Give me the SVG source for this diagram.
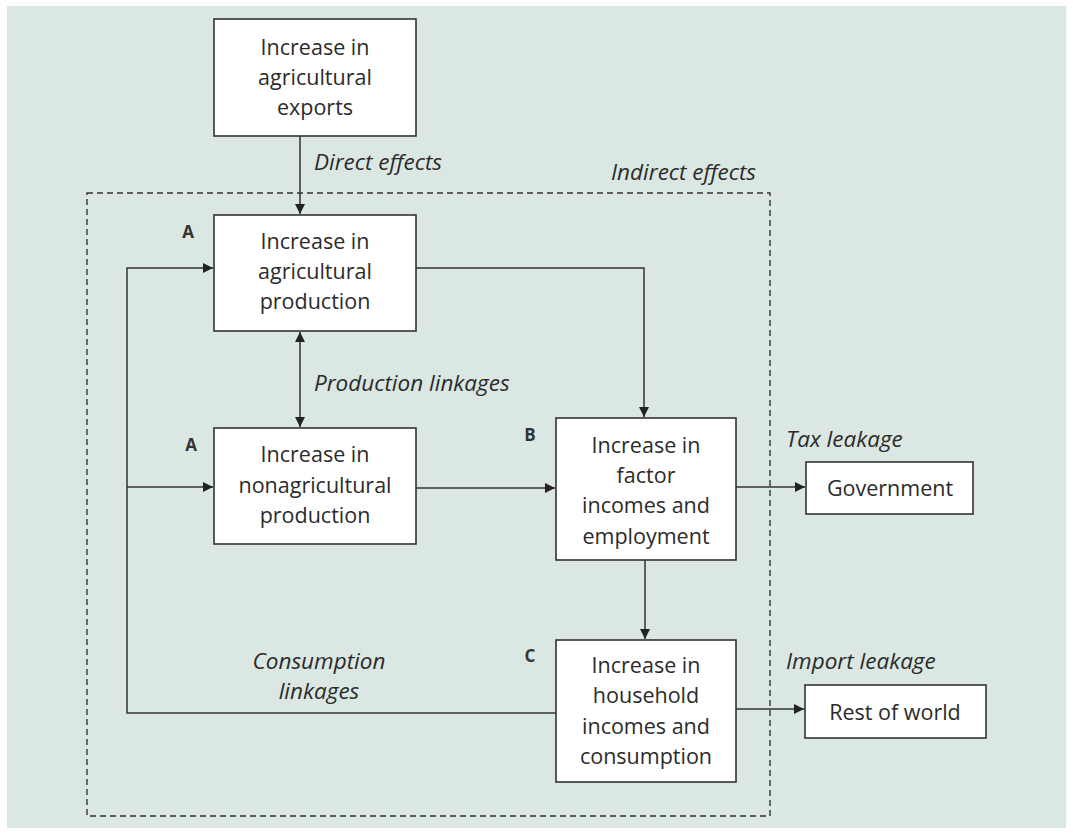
<svg xmlns="http://www.w3.org/2000/svg" width="1073" height="834" viewBox="0 0 1073 834">
<style>
.box{fill:#fff;stroke:#333;stroke-width:1.6}
.t{font-family:"Open Sans","Noto Sans",sans-serif;font-size:21.5px;fill:#2b2b2b;text-anchor:middle;dominant-baseline:central}
.i{font-family:"Open Sans","Noto Sans",sans-serif;font-size:22.5px;font-style:italic;fill:#2b2b2b;dominant-baseline:central}
.l{font-family:"Open Sans","Noto Sans",sans-serif;font-size:17px;font-weight:bold;fill:#333;text-anchor:middle;dominant-baseline:central}
.c{fill:none;stroke:#333;stroke-width:1.5}
</style>
<defs>
<marker id="ah" viewBox="0 0 10 10" refX="10" refY="5" markerWidth="10" markerHeight="10" markerUnits="userSpaceOnUse" orient="auto-start-reverse">
<path d="M0,0 L10,5 L0,10 z" fill="#222"/>
</marker>
</defs>
<rect x="0" y="0" width="1073" height="834" fill="#fff"/>
<rect x="7" y="6" width="1059" height="822" fill="#dae7e2"/>
<rect x="87" y="193" width="683" height="623" fill="none" stroke="#333" stroke-width="1.4" stroke-dasharray="6,4"/>
<text class="i" x="611" y="171">Indirect effects</text>
<g id="connectors">
<line class="c" x1="300" y1="136" x2="300" y2="214" marker-end="url(#ah)"/>
<line class="c" x1="300" y1="332" x2="300" y2="427" marker-start="url(#ah)" marker-end="url(#ah)"/>
<polyline class="c" points="556,713 127,713 127,268 213,268" marker-end="url(#ah)"/>
<line class="c" x1="127" y1="487" x2="213" y2="487" marker-end="url(#ah)"/>
<polyline class="c" points="416,268 644,268 644,417" marker-end="url(#ah)"/>
<line class="c" x1="416" y1="488" x2="555" y2="488" marker-end="url(#ah)"/>
<line class="c" x1="736" y1="487" x2="805" y2="487" marker-end="url(#ah)"/>
<line class="c" x1="645" y1="560" x2="645" y2="639" marker-end="url(#ah)"/>
<line class="c" x1="734" y1="709" x2="804" y2="709" marker-end="url(#ah)"/>
<text class="i" x="314" y="161">Direct effects</text>
<text class="i" x="314" y="382">Production linkages</text>
<text class="i" x="786" y="438">Tax leakage</text>
<text class="i" x="786" y="660">Import leakage</text>
<text class="i" x="319" y="660" text-anchor="middle">Consumption</text>
<text class="i" x="319" y="690" text-anchor="middle">linkages</text>
</g>
<g id="exports">
<rect class="box" x="214" y="19" width="202" height="117"/>
<text class="t" x="315" y="46">Increase in</text>
<text class="t" x="315" y="76">agricultural</text>
<text class="t" x="315" y="106">exports</text>
</g>
<g id="agprod">
<rect class="box" x="214" y="215" width="202" height="116"/>
<text class="l" x="188" y="231">A</text>
<text class="t" x="315" y="240">Increase in</text>
<text class="t" x="315" y="270">agricultural</text>
<text class="t" x="315" y="300">production</text>
</g>
<g id="nonagprod">
<rect class="box" x="214" y="428" width="202" height="116"/>
<text class="l" x="191" y="444">A</text>
<text class="t" x="315" y="453">Increase in</text>
<text class="t" x="315" y="484">nonagricultural</text>
<text class="t" x="315" y="514">production</text>
</g>
<g id="factor">
<rect class="box" x="556" y="418" width="180" height="142"/>
<text class="l" x="530" y="434">B</text>
<text class="t" x="646" y="444">Increase in</text>
<text class="t" x="646" y="474">factor</text>
<text class="t" x="646" y="504">incomes and</text>
<text class="t" x="646" y="535">employment</text>
</g>
<g id="household">
<rect class="box" x="556" y="640" width="180" height="142"/>
<text class="l" x="530" y="655">C</text>
<text class="t" x="646" y="664">Increase in</text>
<text class="t" x="646" y="694">household</text>
<text class="t" x="646" y="725">incomes and</text>
<text class="t" x="646" y="755">consumption</text>
</g>
<g id="government">
<rect class="box" x="806" y="462" width="167" height="52"/>
<text class="t" x="890" y="487">Government</text>
</g>
<g id="restofworld">
<rect class="box" x="805" y="685" width="181" height="53"/>
<text class="t" x="895" y="711">Rest of world</text>
</g>
</svg>
